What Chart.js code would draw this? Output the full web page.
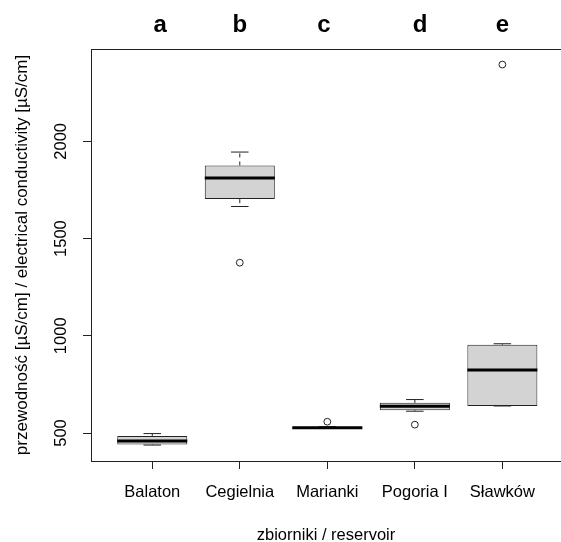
<!DOCTYPE html>
<html>
<head>
<meta charset="utf-8">
<script src="https://cdn.jsdelivr.net/npm/chart.js@4.4.1/dist/chart.umd.min.js"></script>
<style>
  html, body { margin: 0; padding: 0; background: #fff; overflow: hidden; }
  #wrap { width: 561px; height: 542px; }
</style>
</head>
<body>
<div id="wrap"><canvas id="myChart" width="561" height="542"></canvas></div>
<script>
// dane
const categories = ['Balaton', 'Cegielnia', 'Marianki', 'Pogoria I', 'Sławków'];
const whiskerLow = [438, 1665, 523, 612, 639];
const q1 = [441, 1703, 523, 617, 639];
const median = [459, 1811, 527, 638, 824];
const q3 = [485, 1876, 532, 655, 954];
const whiskerHigh = [497, 1945, 532, 672, 959];
// [numer zbiornika, wartość]
const outliers = [[2, 1376], [3, 558], [4, 543], [5, 2395]];
const groupLetters = ['a', 'b', 'c', 'd', 'e'];
const letterX = [1.09, 2.0, 2.96, 4.06, 5.0];
const yTicks = [500, 1000, 1500, 2000];

const FONT = 'Liberation Sans, Arial, sans-serif';
const INK = '#222';

// wąsy, mediany, ramka i napisy
const boxplotExtras = {
  id: 'boxplotExtras',
  beforeDatasetsDraw(chart) {
    const { ctx, scales: { x, y } } = chart;
    ctx.save();
    ctx.strokeStyle = INK;
    ctx.lineWidth = 1;
    categories.forEach((c, i) => {
      const px = x.getPixelForValue(i + 1);
      const half = x.getPixelForValue(i + 1.2) - px; // pół szerokości pudełka
      const staple = half / 2;
      ctx.setLineDash([4, 4]);
      ctx.beginPath();
      ctx.moveTo(px, y.getPixelForValue(q3[i]));
      ctx.lineTo(px, y.getPixelForValue(whiskerHigh[i]));
      ctx.moveTo(px, y.getPixelForValue(q1[i]));
      ctx.lineTo(px, y.getPixelForValue(whiskerLow[i]));
      ctx.stroke();
      ctx.setLineDash([]);
      ctx.beginPath();
      ctx.moveTo(px - staple, y.getPixelForValue(whiskerHigh[i]));
      ctx.lineTo(px + staple, y.getPixelForValue(whiskerHigh[i]));
      ctx.moveTo(px - staple, y.getPixelForValue(whiskerLow[i]));
      ctx.lineTo(px + staple, y.getPixelForValue(whiskerLow[i]));
      ctx.stroke();
    });
    ctx.restore();
  },
  afterDatasetsDraw(chart) {
    const { ctx, chartArea, scales: { x, y } } = chart;
    ctx.save();
    // mediany
    ctx.strokeStyle = '#000';
    ctx.lineWidth = 3;
    categories.forEach((c, i) => {
      const px = x.getPixelForValue(i + 1);
      const half = x.getPixelForValue(i + 1.4) - px;
      const py = y.getPixelForValue(median[i]);
      ctx.beginPath();
      ctx.moveTo(px - half, py);
      ctx.lineTo(px + half, py);
      ctx.stroke();
    });
    // ramka (prawy bok poza obrazkiem, jak w oryginale)
    ctx.strokeStyle = INK;
    ctx.lineWidth = 1;
    const l = Math.floor(chartArea.left) + 0.5;
    const t = Math.floor(chartArea.top) + 0.5;
    const b = Math.floor(chartArea.bottom) + 0.5;
    const r = x.getPixelForValue(5.7);
    ctx.strokeRect(l, t, r - l, b - t);
    // etykiety osi Y (pionowo)
    ctx.fillStyle = '#000';
    ctx.font = '16.5px ' + FONT;
    ctx.textAlign = 'center';
    ctx.textBaseline = 'middle';
    yTicks.forEach((v) => {
      ctx.save();
      ctx.translate(61, y.getPixelForValue(v));
      ctx.rotate(-Math.PI / 2);
      ctx.fillText(String(v), 0, 0);
      ctx.restore();
    });
    // litery grup
    ctx.font = 'bold 24px ' + FONT;
    ctx.textBaseline = 'alphabetic';
    groupLetters.forEach((g, i) => {
      ctx.fillText(g, x.getPixelForValue(letterX[i]), 31.5);
    });
    ctx.restore();
  }
};

const ctx = document.getElementById('myChart').getContext('2d');
new Chart(ctx, {
  type: 'bar',
  data: {
    datasets: [
      {
        type: 'bar',
        data: categories.map((c, i) => ({ x: i + 1, y: [q1[i], q3[i]] })),
        backgroundColor: '#d3d3d3',
        borderColor: INK,
        borderWidth: 1,
        borderSkipped: false,
        categoryPercentage: 1,
        barPercentage: 0.8,
      },
      {
        type: 'scatter',
        data: outliers.map((o) => ({ x: o[0], y: o[1] })),
        pointRadius: 3.4,
        pointBorderWidth: 1,
        pointBorderColor: INK,
        pointBackgroundColor: '#fff',
      },
    ],
  },
  options: {
    responsive: false,
    animation: false,
    devicePixelRatio: 1,
    layout: { autoPadding: false, padding: { top: 49, left: 0, right: 0, bottom: 0 } },
    plugins: { legend: { display: false }, tooltip: { enabled: false } },
    scales: {
      x: {
        type: 'linear',
        min: 0.3,
        max: 5.67,
        offset: false,
        afterBuildTicks: (scale) => { scale.ticks = categories.map((c, i) => ({ value: i + 1 })); },
        afterFit: (scale) => { scale.height = 81; scale.paddingRight = 0; scale.paddingLeft = 0; },
        grid: { offset: false, drawOnChartArea: false, drawTicks: true, tickLength: 8, color: INK },
        border: { display: false },
        ticks: {
          autoSkip: false,
          maxRotation: 0,
          padding: 14,
          color: '#000',
          font: { family: FONT, size: 16.5 },
          callback: (v) => categories[v - 1] ?? '',
        },
        title: {
          display: true,
          text: 'zbiorniki / reservoir',
          color: '#000',
          font: { family: FONT, size: 16.5 },
          padding: { top: 0, bottom: -3.3 },
        },
      },
      y: {
        type: 'linear',
        min: 356,
        max: 2475,
        afterBuildTicks: (scale) => { scale.ticks = yTicks.map((v) => ({ value: v })); },
        afterFit: (scale) => { scale.width = 91; },
        grid: { drawOnChartArea: false, drawTicks: true, tickLength: 8, color: INK },
        border: { display: false },
        ticks: { display: false },
        title: {
          display: true,
          text: 'przewodność [µS/cm] / electrical conductivity [µS/cm]',
          color: '#000',
          font: { family: FONT, size: 17 },
          padding: { top: 12, bottom: 0 },
        },
      },
    },
  },
  plugins: [boxplotExtras],
});
</script>
</body>
</html>
